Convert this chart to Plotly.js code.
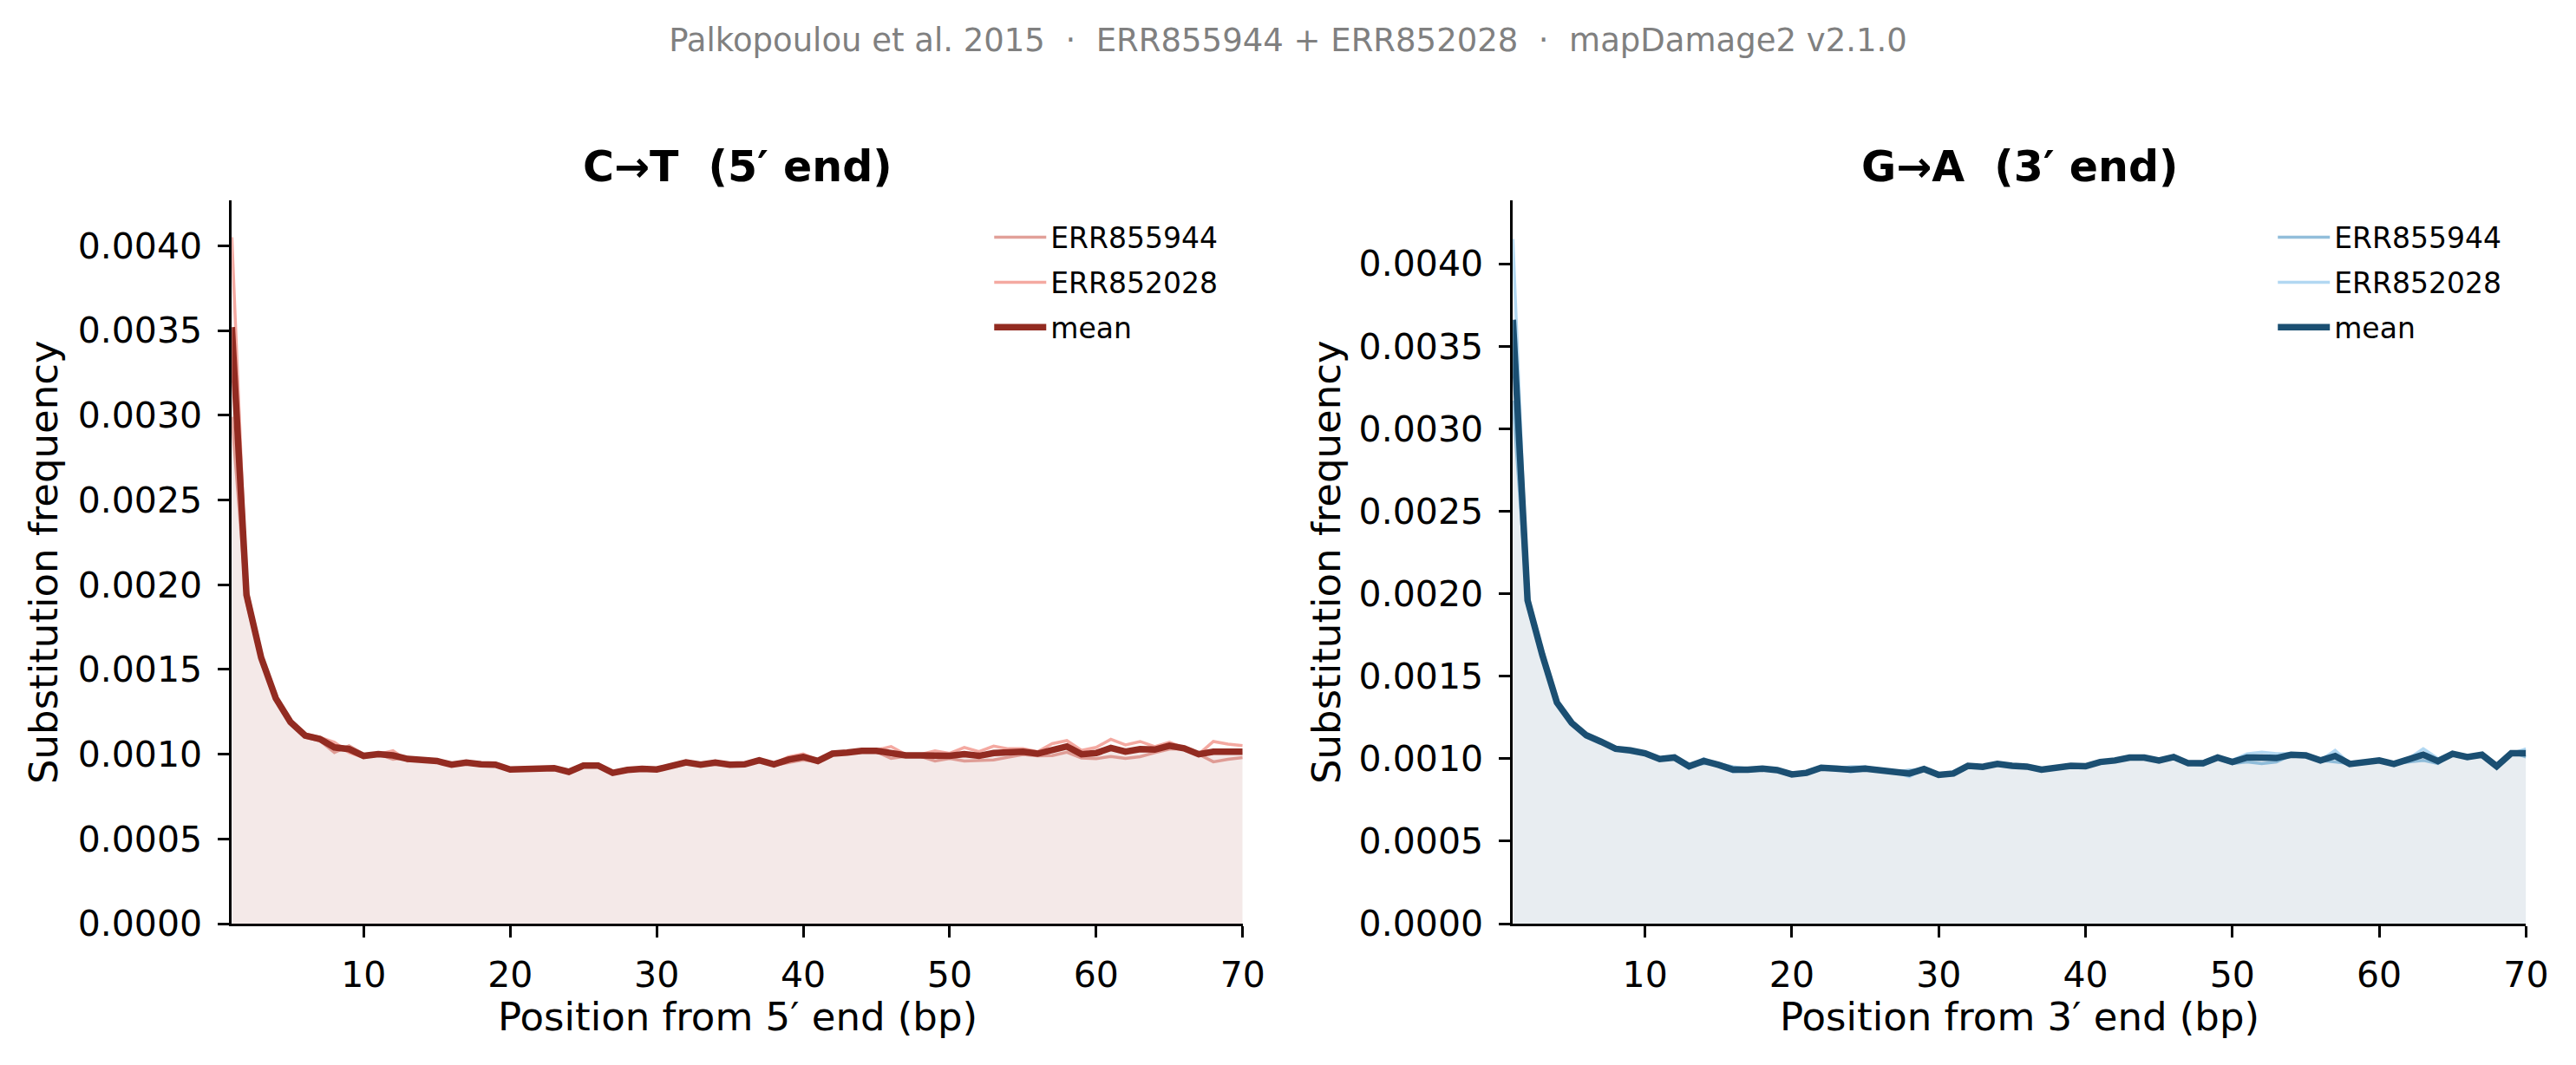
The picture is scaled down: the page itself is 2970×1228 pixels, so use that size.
<!DOCTYPE html>
<html>
<head>
<meta charset="utf-8">
<script src="https://cdn.plot.ly/plotly-3.0.1.min.js"></script>
<style>
  html, body { margin: 0; padding: 0; background: #fff; }
  #chart { width: 2970px; height: 1228px; }
</style>
</head>
<body>
<div id="chart"></div>
<script>
// read positions (bp from read end)
const positions = [1, 2, 3, 4, 5, 6, 7, 8, 9, 10, 11, 12, 13, 14, 15, 16, 17, 18, 19, 20,
  21, 22, 23, 24, 25, 26, 27, 28, 29, 30, 31, 32, 33, 34, 35, 36, 37, 38, 39, 40,
  41, 42, 43, 44, 45, 46, 47, 48, 49, 50, 51, 52, 53, 54, 55, 56, 57, 58, 59, 60,
  61, 62, 63, 64, 65, 66, 67, 68, 69, 70];

const libraries = ['ERR855944', 'ERR852028'];

// C->T at 5' end
const ct_ERR855944 = [0.00299, 0.00190, 0.00155, 0.00132, 0.00118, 0.00110, 0.00108, 0.00101, 0.00105, 0.00100,
  0.00100, 0.00097, 0.00098, 0.00096, 0.00096, 0.00094, 0.00095, 0.00095, 0.00094, 0.00091,
  0.00091, 0.00092, 0.00092, 0.00089, 0.00093, 0.00093, 0.00089, 0.00091, 0.00091, 0.00091,
  0.00093, 0.00095, 0.00094, 0.00094, 0.00094, 0.000938, 0.000962, 0.000935, 0.000951, 0.000966,
  0.000955, 0.000998, 0.001008, 0.001020, 0.001015, 0.000975, 0.000988, 0.000988, 0.000960, 0.000975,
  0.000960, 0.000965, 0.000966, 0.000982, 0.000998, 0.000991, 0.000992, 0.001012, 0.000978, 0.000974,
  0.000986, 0.000975, 0.000985, 0.001009, 0.001030, 0.001033, 0.001000, 0.000955, 0.000970, 0.000980];
const ct_ERR852028 = [0.00405, 0.00198, 0.00159, 0.00134, 0.00120, 0.00112, 0.00110, 0.00107, 0.00101, 0.00098,
  0.00100, 0.00102, 0.00096, 0.00097, 0.00096, 0.00094, 0.00095, 0.00093, 0.00094, 0.00091,
  0.00092, 0.00091, 0.00092, 0.00090, 0.00093, 0.00094, 0.00089, 0.00091, 0.00092, 0.00091,
  0.00093, 0.00095, 0.00094, 0.00096, 0.00094, 0.000942, 0.000966, 0.000945, 0.000985, 0.001002,
  0.000965, 0.001008, 0.001012, 0.001020, 0.001025, 0.001045, 0.000998, 0.000998, 0.001020, 0.001005,
  0.001040, 0.001015, 0.001048, 0.001032, 0.001032, 0.001015, 0.001062, 0.001080, 0.001022, 0.001040,
  0.001088, 0.001055, 0.001075, 0.001045, 0.001070, 0.001037, 0.001000, 0.001075, 0.001060, 0.001050];
const ct_mean = [0.00352, 0.00194, 0.00157, 0.00133, 0.00119, 0.00111, 0.00109, 0.00104, 0.00103, 0.00099,
  0.00100, 0.000993, 0.000972, 0.000966, 0.000960, 0.000938, 0.000950, 0.000940, 0.000938, 0.000910,
  0.000914, 0.000914, 0.000918, 0.000896, 0.000933, 0.000933, 0.000890, 0.000907, 0.000914, 0.000910,
  0.000930, 0.000952, 0.000938, 0.000950, 0.000938, 0.000940, 0.000964, 0.000940, 0.000968, 0.000984,
  0.000960, 0.001003, 0.001010, 0.001020, 0.001020, 0.001010, 0.000993, 0.000993, 0.000990, 0.000990,
  0.001000, 0.000990, 0.001007, 0.001007, 0.001015, 0.001003, 0.001027, 0.001046, 0.001000, 0.001007,
  0.001037, 0.001015, 0.001030, 0.001027, 0.001050, 0.001035, 0.001000, 0.001015, 0.001015, 0.001015];

// G->A at 3' end
const ga_ERR855944 = [0.00317, 0.00193, 0.00161, 0.00133, 0.00121, 0.00113, 0.00110, 0.00106, 0.00105, 0.00104,
  0.00100, 0.00100, 0.00096, 0.00097, 0.00097, 0.00095, 0.00094, 0.00094, 0.00093, 0.00090,
  0.00092, 0.00094, 0.00094, 0.00095, 0.00095, 0.00093, 0.00092, 0.00093, 0.00093, 0.00090,
  0.00091, 0.00095, 0.00095, 0.00097, 0.00096, 0.00095, 0.00094, 0.00095, 0.00095, 0.00095,
  0.00098, 0.00099, 0.00100, 0.00101, 0.00099, 0.00101, 0.00097, 0.00096, 0.00100, 0.00097,
  0.00098, 0.00097, 0.00098, 0.00102, 0.00102, 0.00099, 0.00098, 0.00097, 0.00098, 0.00099,
  0.00097, 0.00098, 0.00099, 0.00097, 0.00103, 0.00101, 0.00103, 0.00096, 0.00104, 0.00101];
const ga_ERR852028 = [0.00415, 0.00199, 0.00165, 0.00135, 0.00122, 0.00115, 0.00111, 0.00106, 0.00105, 0.00103,
  0.00100, 0.00101, 0.00095, 0.00100, 0.00096, 0.00092, 0.00093, 0.00094, 0.00093, 0.00091,
  0.00091, 0.00095, 0.00094, 0.00092, 0.00093, 0.00093, 0.00092, 0.00089, 0.00094, 0.00090,
  0.00091, 0.00096, 0.00095, 0.00097, 0.00096, 0.00095, 0.00093, 0.00095, 0.00096, 0.00096,
  0.00098, 0.00099, 0.00101, 0.00100, 0.00099, 0.00101, 0.00097, 0.00098, 0.00101, 0.00099,
  0.00103, 0.00104, 0.00103, 0.00103, 0.00102, 0.00099, 0.00105, 0.00097, 0.00098, 0.00099,
  0.00097, 0.00100, 0.00106, 0.00100, 0.00103, 0.00101, 0.00102, 0.00095, 0.00103, 0.00106];
const ga_mean = [0.00366, 0.00196, 0.00163, 0.00134, 0.001217, 0.001142, 0.001103, 0.00106, 0.00105, 0.001033,
  0.000998, 0.001007, 0.000954, 0.000986, 0.000963, 0.000933, 0.000933, 0.000940, 0.000931, 0.000905,
  0.000914, 0.000945, 0.000940, 0.000933, 0.000940, 0.000931, 0.000923, 0.000910, 0.000937, 0.000902,
  0.000910, 0.000957, 0.000951, 0.000968, 0.000957, 0.000952, 0.000933, 0.000950, 0.000957, 0.000954,
  0.000980, 0.000989, 0.001007, 0.001007, 0.000989, 0.001010, 0.000972, 0.000972, 0.001007, 0.000980,
  0.001007, 0.001007, 0.001004, 0.001024, 0.001020, 0.000989, 0.001016, 0.000968, 0.000980, 0.000989,
  0.000968, 0.000992, 0.001024, 0.000985, 0.001030, 0.001010, 0.001024, 0.000954, 0.001033, 0.001033];

const FONT = 'DejaVu Sans, Liberation Sans, sans-serif';

const panels = [
  { xa: 'x', ya: 'y', legend: 'legend', series: [ct_ERR855944, ct_ERR852028], mean: ct_mean,
    libColors: ['rgba(217,136,128,0.8)', 'rgba(241,148,138,0.8)'],
    meanColor: '#922B21', fill: 'rgba(146,43,33,0.1)' },
  { xa: 'x2', ya: 'y2', legend: 'legend2', series: [ga_ERR855944, ga_ERR852028], mean: ga_mean,
    libColors: ['rgba(127,179,213,0.85)', 'rgba(174,214,241,0.95)'],
    meanColor: '#1B4F72', fill: 'rgba(27,79,114,0.1)' }
];

const traces = [];
panels.forEach(p => {
  // shaded area under the mean
  traces.push({
    x: positions, y: p.mean, xaxis: p.xa, yaxis: p.ya,
    type: 'scatter', mode: 'lines', fill: 'tozeroy',
    fillcolor: p.fill, line: { width: 0, color: p.fill },
    showlegend: false, hoverinfo: 'skip'
  });
  p.series.forEach((s, i) => {
    traces.push({
      x: positions, y: s, xaxis: p.xa, yaxis: p.ya,
      type: 'scatter', mode: 'lines', name: libraries[i],
      legend: p.legend, legendgroup: p.legend + i,
      line: { width: 3.5, color: p.libColors[i] }
    });
  });
  traces.push({
    x: positions, y: p.mean, xaxis: p.xa, yaxis: p.ya,
    type: 'scatter', mode: 'lines', name: 'mean',
    legend: p.legend, legendgroup: p.legend + 'm',
    line: { width: 7.5, color: p.meanColor }
  });
});

function xAxis(domain, anchor) {
  return {
    domain: domain, anchor: anchor, range: [1, 70],
    tickvals: [10, 20, 30, 40, 50, 60, 70],
    showgrid: false, zeroline: false,
    showline: true, linecolor: '#000', linewidth: 3,
    ticks: 'outside', ticklen: 13, tickwidth: 3, tickcolor: '#000',
    ticklabelstandoff: 8,
    tickfont: { family: FONT, size: 41, color: '#000' }
  };
}
function yAxis(domain, anchor, top) {
  return {
    domain: domain, anchor: anchor, range: [0, top],
    dtick: 0.0005, tick0: 0, tickformat: '.4f',
    showgrid: false, zeroline: false,
    showline: true, linecolor: '#000', linewidth: 3,
    ticks: 'outside', ticklen: 13, tickwidth: 3, tickcolor: '#000',
    ticklabelstandoff: 10,
    tickfont: { family: FONT, size: 41, color: '#000' }
  };
}

function legendBox(xRight) {
  return {
    x: xRight, xanchor: 'right', y: 0.800, yanchor: 'top',
    bgcolor: 'rgba(0,0,0,0)', borderwidth: 0,
    font: { family: FONT, size: 33, color: '#000' },
    tracegroupgap: 6, itemwidth: 60
  };
}

const nb = '\u00a0';
const annotations = [
  { text: '<b>C→T' + nb + nb + '(5′ end)</b>', x: 0.2862, y: 0.8436 },
  { text: '<b>G→A' + nb + nb + '(3′ end)</b>', x: 0.7840, y: 0.8436 }
].map(a => Object.assign(a, {
  xref: 'paper', yref: 'paper', showarrow: false, xanchor: 'center', yanchor: 'middle',
  font: { family: FONT, size: 49, color: '#000' }
}));

// axis titles
[
  { text: 'Position from 5′ end (bp)', x: 0.2862, y: 1 - 1172 / 1228, angle: 0 },
  { text: 'Position from 3′ end (bp)', x: 0.7840, y: 1 - 1172 / 1228, angle: 0 },
  { text: 'Substitution frequency', x: 50 / 2970, y: 0.4723, angle: -90 },
  { text: 'Substitution frequency', x: 1529 / 2970, y: 0.4723, angle: -90 }
].forEach(t => annotations.push({
  text: t.text, x: t.x, y: t.y, textangle: t.angle,
  xref: 'paper', yref: 'paper', showarrow: false, xanchor: 'center', yanchor: 'middle',
  font: { family: FONT, size: 45, color: '#000' }
}));

const layout = {
  width: 2970, height: 1228,
  margin: { l: 0, r: 0, t: 0, b: 0 },
  paper_bgcolor: '#fff', plot_bgcolor: '#fff',
  title: {
    text: 'Palkopoulou et al. 2015' + nb + nb + '·' + nb + nb + 'ERR855944 + ERR852028' + nb + nb + '·' + nb + nb + 'mapDamage2 v2.1.0',
    x: 0.5, xanchor: 'center', y: 1 - 46 / 1228, yanchor: 'middle', yref: 'paper',
    font: { family: FONT, size: 37, color: '#808080' }
  },
  xaxis: xAxis([0.0900, 0.4824], 'y'),
  yaxis: yAxis([0.1327, 0.8119], 'x', 0.004268),
  xaxis2: xAxis([0.5873, 0.9806], 'y2'),
  yaxis2: yAxis([0.1327, 0.8119], 'x2', 0.004384),
  legend: legendBox(0.4745),
  legend2: legendBox(0.9728),
  annotations: annotations,
  showlegend: true
};

Plotly.newPlot('chart', traces, layout, { staticPlot: true });
</script>
</body>
</html>
